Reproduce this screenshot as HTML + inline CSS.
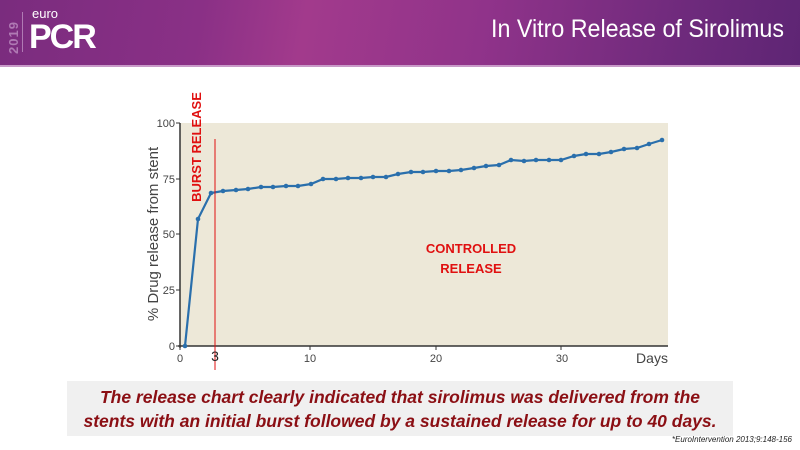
<!DOCTYPE html>
<html><head><meta charset="utf-8"><style>
body{margin:0;width:800px;height:450px;overflow:hidden;background:#fff;position:relative;font-family:"Liberation Sans",sans-serif}
.hdr{position:absolute;left:0;top:0;width:800px;height:66px;background:linear-gradient(100deg,#7a2c7e 0%,#8a3086 25%,#a23a8c 38%,#90338a 60%,#6e2a7c 85%,#5e2574 100%)}
.hdr .ln{position:absolute;left:0;top:65px;width:800px;height:2px;background:#c89ac8}
.title{position:absolute;right:16px;top:15px;color:#fff;font-size:25px;font-family:"Liberation Sans",sans-serif;transform:scaleX(0.93);transform-origin:right center}
.box{position:absolute;left:67px;top:381px;width:666px;height:55px;background:#f0f0f0}
.box p{margin:0;text-align:center;color:#8b0f14;font-weight:bold;font-style:italic;font-size:17.5px;line-height:24px;padding-top:4px;white-space:nowrap}
</style></head><body>
<div class="hdr"><div class="ln"></div>
<div style="position:absolute;left:6px;color:#b07ab4;font-size:13px;font-weight:bold;transform:rotate(-90deg);transform-origin:left top;top:54px;letter-spacing:1px">2019</div>
<div style="position:absolute;left:22px;top:12px;width:1px;height:40px;background:#b07ab4"></div>
<div style="position:absolute;left:32px;top:6px;color:#fff;font-size:13px">euro</div>
<div style="position:absolute;left:29px;top:18px;color:#fff;font-size:34px;font-weight:bold;letter-spacing:-2px">PCR</div>
</div>
<div class="title">In Vitro Release of Sirolimus</div>
<svg width="800" height="450" style="position:absolute;left:0;top:0">
<rect x="180" y="123" width="488" height="223" fill="#ede8d8"/>
<line x1="180" y1="123" x2="180" y2="348" stroke="#333" stroke-width="1.5"/>
<line x1="178" y1="346" x2="668" y2="346" stroke="#333" stroke-width="1.5"/>
<g stroke="#333"><line x1="176" y1="123" x2="180" y2="123"/><line x1="176" y1="179" x2="180" y2="179"/><line x1="176" y1="234" x2="180" y2="234"/><line x1="176" y1="290" x2="180" y2="290"/><line x1="176" y1="346" x2="180" y2="346"/>
<line x1="180" y1="346" x2="180" y2="350"/><line x1="310" y1="346" x2="310" y2="350"/><line x1="436" y1="346" x2="436" y2="350"/><line x1="561" y1="346" x2="561" y2="350"/></g>
<g font-size="11" fill="#444" text-anchor="end"><text x="175" y="127">100</text><text x="175" y="183">75</text><text x="175" y="238">50</text><text x="175" y="294">25</text><text x="175" y="350">0</text></g>
<g font-size="11" fill="#444" text-anchor="middle"><text x="180" y="362">0</text><text x="310" y="362">10</text><text x="436" y="362">20</text><text x="562" y="362">30</text></g>
<text x="652" y="363" font-size="14" fill="#444" text-anchor="middle">Days</text>
<text transform="translate(158,234) rotate(-90)" font-size="15" fill="#444" text-anchor="middle">% Drug release from stent</text>
<polyline fill="none" stroke="#2a6fac" stroke-width="2.2" points="185,346 198,219 211,193 223,191 236,190 248,189 261,187 273,187 286,186 298,186 311,184 323,179 336,179 348,178 361,178 373,177 386,177 398,174 411,172 423,172 436,171 449,171 461,170 474,168 486,166 499,165 511,160 524,161 536,160 549,160 561,160 574,156 586,154 599,154 611,152 624,149 637,148 649,144 662,140"/>
<g fill="#2a6fac"><circle cx="185" cy="346" r="2.3"/><circle cx="198" cy="219" r="2.3"/><circle cx="211" cy="193" r="2.3"/><circle cx="223" cy="191" r="2.3"/><circle cx="236" cy="190" r="2.3"/><circle cx="248" cy="189" r="2.3"/><circle cx="261" cy="187" r="2.3"/><circle cx="273" cy="187" r="2.3"/><circle cx="286" cy="186" r="2.3"/><circle cx="298" cy="186" r="2.3"/><circle cx="311" cy="184" r="2.3"/><circle cx="323" cy="179" r="2.3"/><circle cx="336" cy="179" r="2.3"/><circle cx="348" cy="178" r="2.3"/><circle cx="361" cy="178" r="2.3"/><circle cx="373" cy="177" r="2.3"/><circle cx="386" cy="177" r="2.3"/><circle cx="398" cy="174" r="2.3"/><circle cx="411" cy="172" r="2.3"/><circle cx="423" cy="172" r="2.3"/><circle cx="436" cy="171" r="2.3"/><circle cx="449" cy="171" r="2.3"/><circle cx="461" cy="170" r="2.3"/><circle cx="474" cy="168" r="2.3"/><circle cx="486" cy="166" r="2.3"/><circle cx="499" cy="165" r="2.3"/><circle cx="511" cy="160" r="2.3"/><circle cx="524" cy="161" r="2.3"/><circle cx="536" cy="160" r="2.3"/><circle cx="549" cy="160" r="2.3"/><circle cx="561" cy="160" r="2.3"/><circle cx="574" cy="156" r="2.3"/><circle cx="586" cy="154" r="2.3"/><circle cx="599" cy="154" r="2.3"/><circle cx="611" cy="152" r="2.3"/><circle cx="624" cy="149" r="2.3"/><circle cx="637" cy="148" r="2.3"/><circle cx="649" cy="144" r="2.3"/><circle cx="662" cy="140" r="2.3"/></g>
<line x1="215" y1="139" x2="215" y2="370" stroke="#e01010" stroke-width="1"/>
<text x="215" y="361" font-size="14" fill="#222" text-anchor="middle">3</text>
<text transform="translate(201,147) rotate(-90)" font-size="13" font-weight="bold" fill="#e01010" text-anchor="middle">BURST RELEASE</text>
<g font-size="13" font-weight="bold" fill="#e01010" text-anchor="middle"><text x="471" y="253">CONTROLLED</text><text x="471" y="273">RELEASE</text></g>
</svg>
<div class="box"><p>The release chart clearly indicated that sirolimus was delivered from the<br>stents with an initial burst followed by a sustained release for up to 40 days.</p></div>
<div style="position:absolute;right:8px;top:435px;font-size:8px;font-style:italic;color:#222">*EuroIntervention 2013;9:148-156</div>
</body></html>
